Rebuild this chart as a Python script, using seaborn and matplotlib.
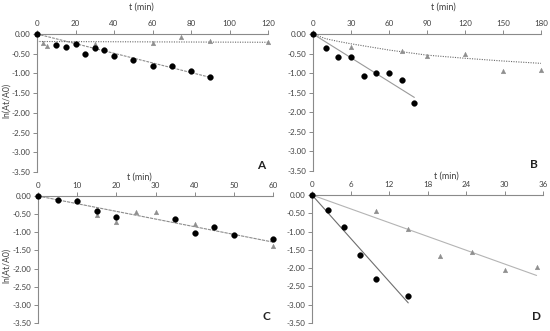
import matplotlib
matplotlib.use("Agg")
import matplotlib.pyplot as plt
import seaborn as sns
import numpy as np

# ---------------- data ----------------
# Panel A
a_circ_t = [0, 10, 15, 20, 25, 30, 35, 40, 50, 60, 70, 80, 90]
a_circ_y = [0, -0.29, -0.33, -0.26, -0.50, -0.36, -0.40, -0.56, -0.67, -0.82, -0.82, -0.94, -1.08]
a_tri_t = [0, 3, 5, 20, 30, 60, 75, 90, 120]
a_tri_y = [0, -0.22, -0.30, -0.22, -0.25, -0.22, -0.07, -0.17, -0.21]
a_fit1_t = [0, 90]
a_fit1_y = [0, -1.10]
a_fit2_t = [0, 120]
a_fit2_y = [-0.19, -0.21]

# Panel B
b_circ_t = [0, 10, 20, 30, 40, 50, 60, 70, 80]
b_circ_y = [0, -0.37, -0.60, -0.60, -1.08, -0.99, -0.99, -1.18, -1.76]
b_tri_t = [0, 30, 70, 90, 120, 150, 180]
b_tri_y = [0, -0.32, -0.44, -0.56, -0.50, -0.94, -0.92]
b_fit1_t = [0, 80]
b_fit1_y = [0, -1.62]
b_fit2_t = [0, 10, 20, 30, 45, 60, 90, 120, 150, 180]
b_fit2_y = [0, -0.12, -0.19, -0.25, -0.33, -0.41, -0.54, -0.62, -0.69, -0.75]

# Panel C
c_circ_t = [0, 5, 10, 15, 20, 35, 40, 45, 50, 60]
c_circ_y = [0, -0.10, -0.15, -0.40, -0.58, -0.64, -1.01, -0.85, -1.07, -1.18]
c_tri_t = [0, 10, 15, 20, 25, 30, 40, 60]
c_tri_y = [0, -0.12, -0.53, -0.71, -0.43, -0.43, -0.77, -1.38]
c_fit_t = [0, 60]
c_fit_y = [0, -1.27]

# Panel D
d_circ_t = [0, 2.5, 5, 7.5, 10, 15]
d_circ_y = [0, -0.42, -0.87, -1.64, -2.29, -2.77]
d_tri_t = [0, 10, 15, 20, 25, 30, 35]
d_tri_y = [0, -0.44, -0.94, -1.67, -1.57, -2.06, -1.96]
d_fit1_t = [0, 15]
d_fit1_y = [0, -2.95]
d_fit2_t = [0, 35]
d_fit2_y = [0, -2.20]

y_ticks = [0.0, -0.5, -1.0, -1.5, -2.0, -2.5, -3.0, -3.5]
a_xticks = [0, 20, 40, 60, 80, 100, 120]
b_xticks = [0, 30, 60, 90, 120, 150, 180]
c_xticks = [0, 10, 20, 30, 40, 50, 60]
d_xticks = [0, 6, 12, 18, 24, 30, 36]

# ---------------- style ----------------
sns.set_style("white")
plt.rcParams['font.family'] = ['Lato', 'DejaVu Sans']

W, H = 550, 331
fig = plt.figure(figsize=(W / 100, H / 100), dpi=100)

def make_ax(l, r, t, b):
    return fig.add_axes([l / W, 1 - b / H, (r - l) / W, (b - t) / H])

axA = make_ax(37, 268, 34, 172)
axB = make_ax(313, 541, 34, 171)
axC = make_ax(38, 273, 196, 323)
axD = make_ax(312, 543, 195, 323)

spine_col = "#8a8a8a"
txt_col = "#404040"
tri_col = "#8f8f8f"

def style_ax(ax, xticks, letter, ylabel):
    ax.set_xlim(xticks[0], xticks[-1])
    ax.set_ylim(-3.5, 0)
    ax.xaxis.tick_top()
    ax.xaxis.set_label_position('top')
    ax.set_xticks(xticks)
    ax.set_xticklabels([str(v) for v in xticks])
    ax.set_yticks(y_ticks)
    ax.set_yticklabels([f"{v:.2f}" for v in y_ticks])
    for s in ['right', 'bottom']:
        ax.spines[s].set_visible(False)
    for s in ['top', 'left']:
        ax.spines[s].set_color(spine_col)
        ax.spines[s].set_linewidth(0.8)
    ax.tick_params(axis='both', which='both', length=3, width=0.7, color=spine_col,
                   labelsize=5.8, labelcolor=txt_col, direction='out', pad=2.0)
    ax.tick_params(axis='x', top=True, bottom=False, labeltop=True, labelbottom=False)
    ax.tick_params(axis='y', left=True, right=False)
    ax.set_xlabel("t (min)", fontsize=6.5, color=txt_col)
    ax.xaxis.label.set_verticalalignment('center')
    if ylabel:
        ax.set_ylabel("ln(At/A0)", fontsize=6.2, color=txt_col)
        ax.yaxis.label.set_verticalalignment('center')
    else:
        ax.set_ylabel("")
    ax.text(0.97, 0.05, letter, transform=ax.transAxes, fontsize=8.5, fontweight='bold',
            color='#222222', ha='center', va='center')
    ax.patch.set_alpha(0)

def draw(ax, ct, cy, tt, ty, fits):
    for (ft, fy, col, ls) in fits:
        sns.lineplot(x=ft, y=fy, ax=ax, color=col, linestyle=ls, linewidth=0.8,
                     sort=False, estimator=None)
    sns.scatterplot(x=tt, y=ty, ax=ax, marker='^', s=11, color=tri_col,
                    edgecolor=tri_col, linewidth=0.3, clip_on=False, zorder=3)
    sns.scatterplot(x=ct, y=cy, ax=ax, marker='o', s=17, color='black',
                    edgecolor='black', linewidth=0.3, clip_on=False, zorder=4)

draw(axA, a_circ_t, a_circ_y, a_tri_t, a_tri_y,
     [(a_fit1_t, a_fit1_y, "#8c8c8c", (0, (2.5, 1))),
      (a_fit2_t, a_fit2_y, "#6a6a6a", (0, (1, 1.2)))])
draw(axB, b_circ_t, b_circ_y, b_tri_t, b_tri_y,
     [(b_fit1_t, b_fit1_y, "#9a9a9a", '-'),
      (b_fit2_t, b_fit2_y, "#6a6a6a", (0, (1, 1.2)))])
draw(axC, c_circ_t, c_circ_y, c_tri_t, c_tri_y,
     [(c_fit_t, c_fit_y, "#8c8c8c", (0, (3, 0.8)))])
draw(axD, d_circ_t, d_circ_y, d_tri_t, d_tri_y,
     [(d_fit1_t, d_fit1_y, "#6e6e6e", '-'),
      (d_fit2_t, d_fit2_y, "#b4b4b4", '-')])

style_ax(axA, a_xticks, "A", True)
style_ax(axB, b_xticks, "B", False)
style_ax(axC, c_xticks, "C", True)
style_ax(axD, d_xticks, "D", False)

# x-label positions (centre, axes fraction above the top spine)
axA.xaxis.set_label_coords(0.45, 1 + 27 / 138)
axB.xaxis.set_label_coords(0.57, 1 + 27 / 137)
axC.xaxis.set_label_coords(0.43, 1 + 19 / 127)
axD.xaxis.set_label_coords(0.58, 1 + 19 / 128)
axA.yaxis.set_label_coords(-31 / 231, 0.52)
axC.yaxis.set_label_coords(-32 / 235, 0.45)

fig.savefig("out.png", dpi=100)
